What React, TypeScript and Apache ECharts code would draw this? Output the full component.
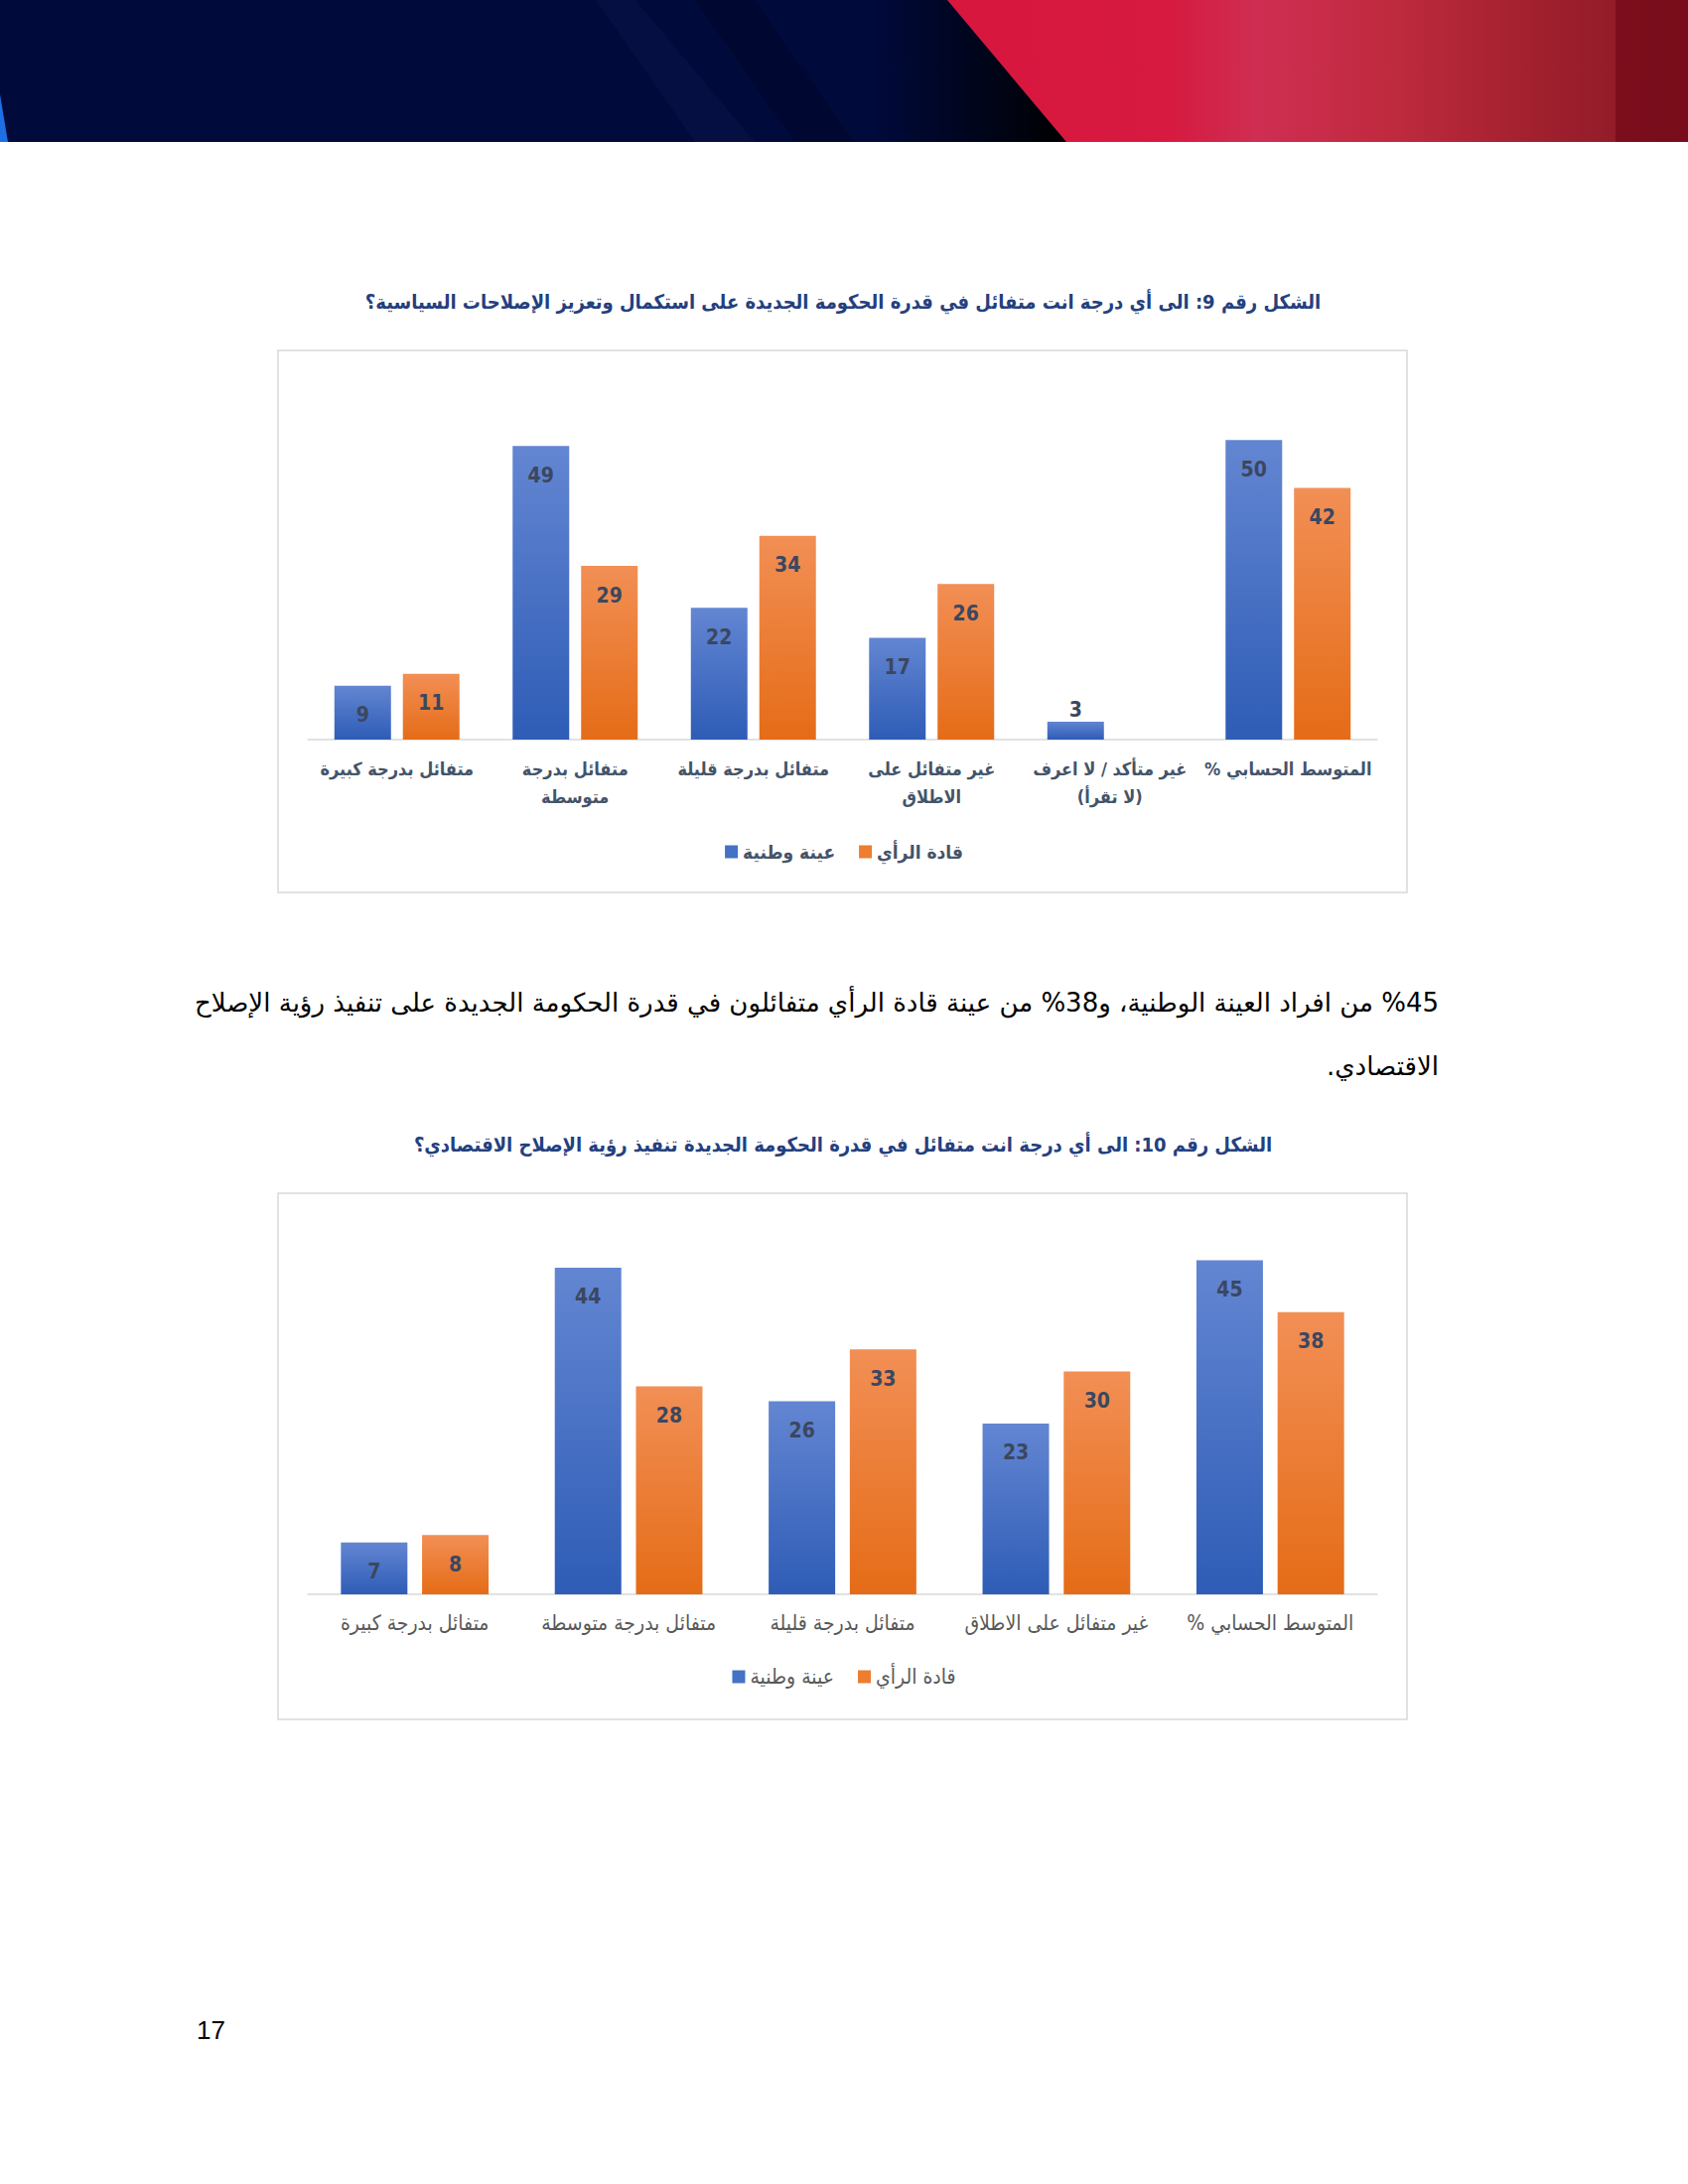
import React, { useEffect, useRef } from "react";
import * as echarts from "echarts";

const RLM = "\u200F";
const rtl = (s: string) => s.split("\n").map((l) => RLM + l + RLM).join("\n");

const seriesNames = ["عينة وطنية", "قادة الرأي"];

const title1 = "الشكل رقم 9: الى أي درجة انت متفائل في قدرة الحكومة الجديدة على استكمال وتعزيز الإصلاحات السياسية؟";
const categories1 = [
  "متفائل بدرجة كبيرة",
  "متفائل بدرجة\nمتوسطة",
  "متفائل بدرجة قليلة",
  "غير متفائل على\nالاطلاق",
  "غير متأكد / لا اعرف\n(لا تقرأ)",
  "المتوسط الحسابي %",
];
const national1 = [9, 49, 22, 17, 3, 50];
const leaders1: (number | null)[] = [11, 29, 34, 26, null, 42];

const title2 = "الشكل رقم 10: الى أي درجة انت متفائل في قدرة الحكومة الجديدة تنفيذ رؤية الإصلاح الاقتصادي؟";
const categories2 = [
  "متفائل بدرجة كبيرة",
  "متفائل بدرجة متوسطة",
  "متفائل بدرجة قليلة",
  "غير متفائل على الاطلاق",
  "المتوسط الحسابي %",
];
const national2 = [7, 44, 26, 23, 45];
const leaders2 = [8, 28, 33, 30, 38];

const paragraphLines = [
  "%45 من افراد العينة الوطنية، و38% من عينة قادة الرأي متفائلون في قدرة الحكومة الجديدة على تنفيذ رؤية الإصلاح",
  "الاقتصادي.",
];
const pageNumber = "17";

const AR_FONT = '"DejaVu Sans Condensed", "DejaVu Sans", sans-serif';
const NUM_FONT = '"Liberation Sans Narrow", "DejaVu Sans Condensed", sans-serif';

const blueGrad = () =>
  new echarts.graphic.LinearGradient(0, 0, 0, 1, [
    { offset: 0, color: "#6386d2" },
    { offset: 1, color: "#2e5cb6" },
  ]);
const orangeGrad = () =>
  new echarts.graphic.LinearGradient(0, 0, 0, 1, [
    { offset: 0, color: "#f28f55" },
    { offset: 1, color: "#e56c17" },
  ]);

function barData(vals: (number | null)[]) {
  return vals.map((v) =>
    v !== null && v < 5
      ? { value: v, label: { position: "top", distance: 1 } }
      : v
  );
}

export default function App() {
  const ref = useRef<HTMLDivElement>(null);
  useEffect(() => {
    if (!ref.current) return;
    const chart = echarts.init(ref.current, undefined, { renderer: "svg" });
    const labelCommon = {
      show: true,
      position: "insideTop",
      distance: 19,
      color: "#3b4760",
      fontSize: 21,
      fontWeight: "bold",
      fontFamily: NUM_FONT,
    };
    const option: any = {
      animation: false,
      backgroundColor: "#ffffff",
      grid: [
        { left: 310, top: 383, width: 1077, height: 362 },
        { left: 310, top: 1232, width: 1077, height: 374 },
      ],
      xAxis: [
        {
          type: "category",
          gridIndex: 0,
          data: categories1,
          axisLine: { lineStyle: { color: "#d9d9d9", width: 1.5 } },
          axisTick: { show: false },
          axisLabel: {
            interval: 0,
            margin: 15,
            color: "#44546a",
            fontSize: 18,
            fontWeight: "bold",
            fontFamily: AR_FONT,
            lineHeight: 28,
            formatter: (v: string) => rtl(v),
          },
        },
        {
          type: "category",
          gridIndex: 1,
          data: categories2,
          axisLine: { lineStyle: { color: "#d9d9d9", width: 1.5 } },
          axisTick: { show: false },
          axisLabel: {
            interval: 0,
            margin: 15,
            color: "#595959",
            fontSize: 21,
            fontFamily: AR_FONT,
            lineHeight: 28,
            formatter: (v: string) => rtl(v),
          },
        },
      ],
      yAxis: [
        { type: "value", gridIndex: 0, min: 0, max: 60, interval: 10, show: false, splitLine: { show: false } },
        { type: "value", gridIndex: 1, min: 0, max: 50, interval: 10, show: false, splitLine: { show: false } },
      ],
      legend: [
        {
          top: 842,
          left: "center",
          icon: "rect",
          itemWidth: 13,
          itemHeight: 13,
          itemGap: 24,
          selectedMode: false,
          data: [
            { name: seriesNames[0], itemStyle: { color: "#4472c4" } },
            { name: seriesNames[1], itemStyle: { color: "#ed7d31" } },
          ],
          textStyle: { color: "#44546a", fontSize: 19, fontWeight: "bold", fontFamily: AR_FONT, lineHeight: 22 },
        },
        {
          top: 1673,
          left: "center",
          icon: "rect",
          itemWidth: 13,
          itemHeight: 13,
          itemGap: 24,
          selectedMode: false,
          data: [
            { name: seriesNames[0], itemStyle: { color: "#4472c4" } },
            { name: seriesNames[1], itemStyle: { color: "#ed7d31" } },
          ],
          textStyle: { color: "#595959", fontSize: 21, fontFamily: AR_FONT, lineHeight: 22 },
        },
      ],
      series: [
        {
          type: "bar",
          name: seriesNames[0],
          xAxisIndex: 0,
          yAxisIndex: 0,
          data: barData(national1),
          barWidth: 57,
          barGap: "21%",
          itemStyle: { color: blueGrad() },
          label: { ...labelCommon },
        },
        {
          type: "bar",
          name: seriesNames[1],
          xAxisIndex: 0,
          yAxisIndex: 0,
          data: barData(leaders1),
          barWidth: 57,
          barGap: "21%",
          itemStyle: { color: orangeGrad() },
          label: { ...labelCommon },
        },
        {
          type: "bar",
          name: seriesNames[0],
          xAxisIndex: 1,
          yAxisIndex: 1,
          data: barData(national2),
          barWidth: 67,
          barGap: "22%",
          itemStyle: { color: blueGrad() },
          label: { ...labelCommon },
        },
        {
          type: "bar",
          name: seriesNames[1],
          xAxisIndex: 1,
          yAxisIndex: 1,
          data: barData(leaders2),
          barWidth: 67,
          barGap: "22%",
          itemStyle: { color: orangeGrad() },
          label: { ...labelCommon },
        },
      ],
      graphic: [
        // header banner
        { type: "rect", z: -10, shape: { x: 0, y: 0, width: 1700, height: 143 }, style: { fill: "#000a3b" } },
        {
          type: "polygon",
          z: -9,
          shape: { points: [[600, 0], [640, 0], [760, 143], [700, 143]] },
          style: { fill: "rgba(30,40,100,0.18)" },
        },
        {
          type: "polygon",
          z: -9,
          shape: { points: [[700, 0], [760, 0], [860, 143], [800, 143]] },
          style: { fill: "rgba(0,0,20,0.25)" },
        },
        {
          type: "polygon",
          z: -9,
          shape: { points: [[880, 0], [954, 0], [1074, 143], [880, 143]] },
          style: {
            fill: new echarts.graphic.LinearGradient(0, 0, 1, 0, [
              { offset: 0, color: "#000a3b" },
              { offset: 1, color: "#000000" },
            ]),
          },
        },
        {
          type: "polygon",
          z: -8,
          shape: { points: [[954, 0], [1700, 0], [1700, 143], [1074, 143]] },
          style: {
            fill: new echarts.graphic.LinearGradient(0, 0, 1, 0, [
              { offset: 0, color: "#d8163e" },
              { offset: 0.3, color: "#d61a40" },
              { offset: 0.42, color: "#cf2e52" },
              { offset: 0.6, color: "#bf2a3e" },
              { offset: 0.8, color: "#a0202e" },
              { offset: 1, color: "#861824" },
            ]),
          },
        },
        { type: "rect", z: -7, shape: { x: 1627, y: 0, width: 73, height: 143 }, style: { fill: "rgba(110,5,20,0.6)" } },
        { type: "polygon", z: -7, shape: { points: [[0, 95], [8, 143], [0, 143]] }, style: { fill: "#1e6ee6" } },
        // chart frames
        { type: "rect", z: -5, shape: { x: 280, y: 353, width: 1137, height: 546 }, style: { fill: "#ffffff", stroke: "#d9d9d9", lineWidth: 1.5 } },
        { type: "rect", z: -5, shape: { x: 280, y: 1202, width: 1137, height: 530 }, style: { fill: "#ffffff", stroke: "#d9d9d9", lineWidth: 1.5 } },
        // titles
        {
          type: "text",
          x: 849,
          y: 304,
          style: { text: title1, fill: "#24407e", fontSize: 20, fontWeight: "bold", fontFamily: AR_FONT, align: "center", verticalAlign: "middle" },
        },
        {
          type: "text",
          x: 849,
          y: 1153,
          style: { text: title2, fill: "#24407e", fontSize: 20, fontWeight: "bold", fontFamily: AR_FONT, align: "center", verticalAlign: "middle" },
        },
        // paragraph
        {
          type: "text",
          x: 1449,
          y: 1010,
          style: { text: rtl(paragraphLines[0]), fill: "#000000", fontSize: 26, fontFamily: '"DejaVu Sans", sans-serif', align: "right", verticalAlign: "middle" },
        },
        {
          type: "text",
          x: 1449,
          y: 1074,
          style: { text: rtl(paragraphLines[1]), fill: "#000000", fontSize: 26, fontFamily: '"DejaVu Sans", sans-serif', align: "right", verticalAlign: "middle" },
        },
        // page number
        {
          type: "text",
          x: 198,
          y: 2045,
          style: { text: pageNumber, fill: "#000000", fontSize: 26, fontFamily: '"Liberation Sans", "Open Sans", sans-serif', align: "left", verticalAlign: "middle" },
        },
      ],
    };
    chart.setOption(option);
    return () => chart.dispose();
  }, []);
  return (
    <div
      ref={ref}
      style={{ position: "absolute", left: 0, top: 0, width: 1700, height: 2200, background: "#ffffff" }}
    />
  );
}
